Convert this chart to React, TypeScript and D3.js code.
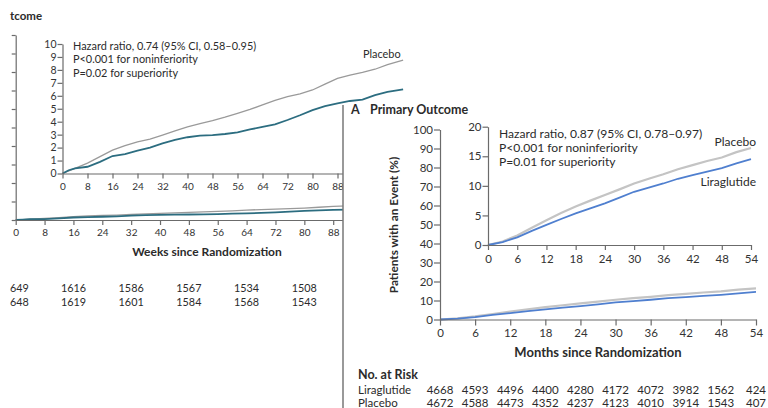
import { useEffect, useRef } from "react";
import * as d3 from "d3";

// Background trial (partly hidden): weeks since randomization, % with event
const weeks = [0, 2, 4, 8, 12, 16, 20, 24, 28, 32, 36, 40, 44, 48, 52, 56, 60, 64, 68, 72, 76, 80, 84, 88, 92, 96, 100, 104, 109];
const semaPlacebo = [0, 0.2, 0.4, 0.8, 1.3, 1.8, 2.15, 2.45, 2.65, 2.97, 3.3, 3.6, 3.85, 4.08, 4.35, 4.65, 4.95, 5.3, 5.65, 5.93, 6.15, 6.45, 6.9, 7.35, 7.6, 7.8, 8.05, 8.4, 8.76];
const semaActive = [0, 0.25, 0.4, 0.52, 0.9, 1.35, 1.5, 1.76, 2.0, 2.33, 2.6, 2.8, 2.92, 2.97, 3.05, 3.18, 3.4, 3.6, 3.8, 4.13, 4.5, 4.9, 5.2, 5.42, 5.6, 5.7, 6.05, 6.3, 6.5];
const weekTicks = [0, 8, 16, 24, 32, 40, 48, 56, 64, 72, 80, 88];
const leftInsetYTicks = [0, 1, 2, 3, 4, 5, 6, 7, 8, 9, 10];
const leftOuterYTicks = [0, 10, 20, 30, 40, 50, 60, 70, 80, 90, 100];
const leftRiskWeeks = [0, 16, 32, 48, 64, 80];
const leftRiskRow1 = ["649", "1616", "1586", "1567", "1534", "1508"];
const leftRiskRow2 = ["648", "1619", "1601", "1584", "1568", "1543"];

// Panel A: months since randomization
const months = [0, 3, 6, 9, 12, 15, 18, 21, 24, 27, 30, 33, 36, 39, 42, 45, 48, 51, 54];
const placebo = [0, 0.6, 1.6, 2.9, 4.2, 5.4, 6.5, 7.5, 8.45, 9.4, 10.4, 11.2, 11.95, 12.8, 13.5, 14.2, 14.8, 15.7, 16.4];
const liraglutide = [0, 0.5, 1.3, 2.4, 3.4, 4.4, 5.35, 6.2, 7.05, 8.0, 9.0, 9.7, 10.4, 11.2, 11.8, 12.4, 13.0, 13.8, 14.5];
const monthTicks = [0, 6, 12, 18, 24, 30, 36, 42, 48, 54];
const outerYTicks = [0, 10, 20, 30, 40, 50, 60, 70, 80, 90, 100];
const insetYTicks = [0, 5, 10, 15, 20];
const riskLira = [4668, 4593, 4496, 4400, 4280, 4172, 4072, 3982, 1562, 424];
const riskPlacebo = [4672, 4588, 4473, 4352, 4237, 4123, 4010, 3914, 1543, 407];

const font = "Lato, 'Open Sans', sans-serif";
const axisColor = "#6b6b6b";
const textColor = "#2b2b2b";

// scales
const xLO = d3.scaleLinear().domain([0, 110]).range([15.7, 15.7 + 110 * 3.608]);
const yLO = d3.scaleLinear().domain([0, 100]).range([220, 35]);
const xLI = d3.scaleLinear().domain([0, 110]).range([62.5, 62.5 + 110 * 3.125]);
const yLI = d3.scaleLinear().domain([0, 10]).range([173.5, 44]);
const xRO = d3.scaleLinear().domain([0, 54]).range([440, 756]);
const yRO = d3.scaleLinear().domain([0, 100]).range([319.5, 129.5]);
const xRI = d3.scaleLinear().domain([0, 54]).range([488, 751]);
const yRI = d3.scaleLinear().domain([0, 20]).range([245, 126.7]);

const mkLine = (xs, ys, x, y) =>
  d3.line<number>().x((_, i) => x(xs[i])).y((d) => y(d))(ys) as string;

const styleAxis = (g, fs, hideLabels = false) => {
  g.select(".domain").attr("stroke", axisColor).attr("stroke-width", 1.2);
  g.selectAll(".tick line").attr("stroke", axisColor).attr("stroke-width", 1.2);
  g.selectAll(".tick text")
    .attr("fill", "#333")
    .attr("font-size", fs)
    .attr("font-family", font)
    .style("display", hideLabels ? "none" : null);
};

const App = () => {
  const ref = useRef<SVGSVGElement>(null);

  useEffect(() => {
    const svg = d3.select(ref.current);
    svg.select(".lo-x").call(d3.axisBottom(xLO).tickValues([...weekTicks, 96, 104]).tickSize(5).tickPadding(4).tickSizeOuter(0)).call((g) => styleAxis(g, 10));
    svg.select(".lo-y").call(d3.axisLeft(yLO).tickValues(leftOuterYTicks).tickSize(4).tickSizeOuter(0)).call((g) => styleAxis(g, 10, true));
    svg.select(".li-x").call(d3.axisBottom(xLI).tickValues([...weekTicks, 96, 104]).tickSize(5).tickPadding(4).tickSizeOuter(0)).call((g) => styleAxis(g, 10));
    svg.select(".li-y").call(d3.axisLeft(yLI).tickValues(leftInsetYTicks).tickSize(5).tickPadding(1).tickSizeOuter(0)).call((g) => styleAxis(g, 10.5));
    svg.select(".ro-x").call(d3.axisBottom(xRO).tickValues(monthTicks).tickSize(6).tickPadding(3.5).tickSizeOuter(0)).call((g) => styleAxis(g, 11.5));
    svg.select(".ro-y").call(d3.axisLeft(yRO).tickValues(outerYTicks).tickSize(6).tickPadding(1).tickSizeOuter(0)).call((g) => styleAxis(g, 11.5));
    svg.select(".ri-x").call(d3.axisBottom(xRI).tickValues(monthTicks).tickSize(5).tickPadding(5).tickSizeOuter(0)).call((g) => styleAxis(g, 11.5));
    svg.select(".ri-y").call(d3.axisLeft(yRI).tickValues(insetYTicks).tickSize(5.5).tickPadding(1).tickSizeOuter(0)).call((g) => styleAxis(g, 11.5));
  }, []);

  return (
    <svg
      ref={ref}
      width={768}
      height={408}
      style={{ position: "absolute", left: 0, top: 0, background: "#fff" }}
      fontFamily={font}
    >
      {/* background trial */}
      <text x={10} y={20} fontSize={11.5} fontWeight="bold" fill={textColor}>tcome</text>
      <path d={mkLine(weeks, semaPlacebo, xLO, yLO)} fill="none" stroke="#9a9a9a" strokeWidth={1.3} />
      <path d={mkLine(weeks, semaActive, xLO, yLO)} fill="none" stroke="#2c6d80" strokeWidth={1.8} />
      <g className="lo-x" transform={`translate(0,${yLO(0)})`} />
      <g className="lo-y" transform={`translate(${xLO(0)},0)`} />
      <path d={mkLine(weeks, semaPlacebo, xLI, yLI)} fill="none" stroke="#9a9a9a" strokeWidth={1.3} />
      <path d={mkLine(weeks, semaActive, xLI, yLI)} fill="none" stroke="#2c6d80" strokeWidth={1.8} />
      <g className="li-x" transform={`translate(0,${yLI(0)})`} />
      <g className="li-y" transform={`translate(${xLI(0)},0)`} />
      <g fontSize={10.9} fill={textColor}>
        <text x={73} y={50}>Hazard ratio, 0.74 (95% CI, 0.58–0.95)</text>
        <text x={73} y={63.3}>P&lt;0.001 for noninferiority</text>
        <text x={73} y={76.7}>P=0.02 for superiority</text>
        <text x={363} y={58.3}>Placebo</text>
      </g>
      <text x={207} y={256} textAnchor="middle" fontSize={12} fontWeight="bold" fill={textColor}>
        Weeks since Randomization
      </text>
      <g fontSize={10.8} fill={textColor}>
        {leftRiskRow1.map((v, i) => (
          <text key={"a" + i} x={i === 0 ? 10 : xLO(leftRiskWeeks[i])} y={292} textAnchor={i === 0 ? "start" : "middle"}>{v}</text>
        ))}
        {leftRiskRow2.map((v, i) => (
          <text key={"b" + i} x={i === 0 ? 10 : xLO(leftRiskWeeks[i])} y={305.7} textAnchor={i === 0 ? "start" : "middle"}>{v}</text>
        ))}
      </g>

      {/* panel A */}
      <rect x={343} y={105} width={425} height={303} fill="#fff" />
      <line x1={343} x2={343} y1={105} y2={408} stroke="#777" strokeWidth={1.5} />
      <text x={351} y={114} fontSize={12.5} fontWeight="bold" fill={textColor}>A</text>
      <text x={370} y={114} fontSize={12.5} fontWeight="bold" fill={textColor}>Primary Outcome</text>
      <text transform="translate(397.5,225) rotate(-90)" textAnchor="middle" fontSize={11.8} fontWeight="bold" fill={textColor}>
        Patients with an Event (%)
      </text>
      <path d={mkLine(months, placebo, xRO, yRO)} fill="none" stroke="#c4c4c4" strokeWidth={2.2} />
      <path d={mkLine(months, liraglutide, xRO, yRO)} fill="none" stroke="#4f7fcf" strokeWidth={1.8} />
      <g className="ro-x" transform={`translate(0,${yRO(0)})`} />
      <g className="ro-y" transform={`translate(${xRO(0)},0)`} />
      <path d={mkLine(months, placebo, xRI, yRI)} fill="none" stroke="#c4c4c4" strokeWidth={2.2} />
      <path d={mkLine(months, liraglutide, xRI, yRI)} fill="none" stroke="#4f7fcf" strokeWidth={1.8} />
      <g className="ri-x" transform={`translate(0,${yRI(0)})`} />
      <g className="ri-y" transform={`translate(${xRI(0)},0)`} />
      <g fontSize={11.6} fill={textColor}>
        <text x={499} y={137.6} fontSize={12.1}>Hazard ratio, 0.87 (95% CI, 0.78–0.97)</text>
        <text x={499} y={151.7} fontSize={12.1}>P&lt;0.001 for noninferiority</text>
        <text x={499} y={165.7} fontSize={12.1}>P=0.01 for superiority</text>
        <text x={756} y={145.7} textAnchor="end" fontSize={12}>Placebo</text>
        <text x={756} y={185.7} textAnchor="end" fontSize={12}>Liraglutide</text>
      </g>
      <text x={598} y={356.7} textAnchor="middle" fontSize={13} fontWeight="bold" fill={textColor}>
        Months since Randomization
      </text>
      <text x={358} y={379.3} fontSize={12.5} fontWeight="bold" fill={textColor}>No. at Risk</text>
      <g fontSize={11.5} fill={textColor}>
        <text x={358} y={394}>Liraglutide</text>
        <text x={358} y={407.3}>Placebo</text>
        {riskLira.map((v, i) => (
          <text key={"l" + i} x={xRO(monthTicks[i])} y={394} textAnchor="middle">{v}</text>
        ))}
        {riskPlacebo.map((v, i) => (
          <text key={"p" + i} x={xRO(monthTicks[i])} y={407.3} textAnchor="middle">{v}</text>
        ))}
      </g>
    </svg>
  );
};

export default App;
